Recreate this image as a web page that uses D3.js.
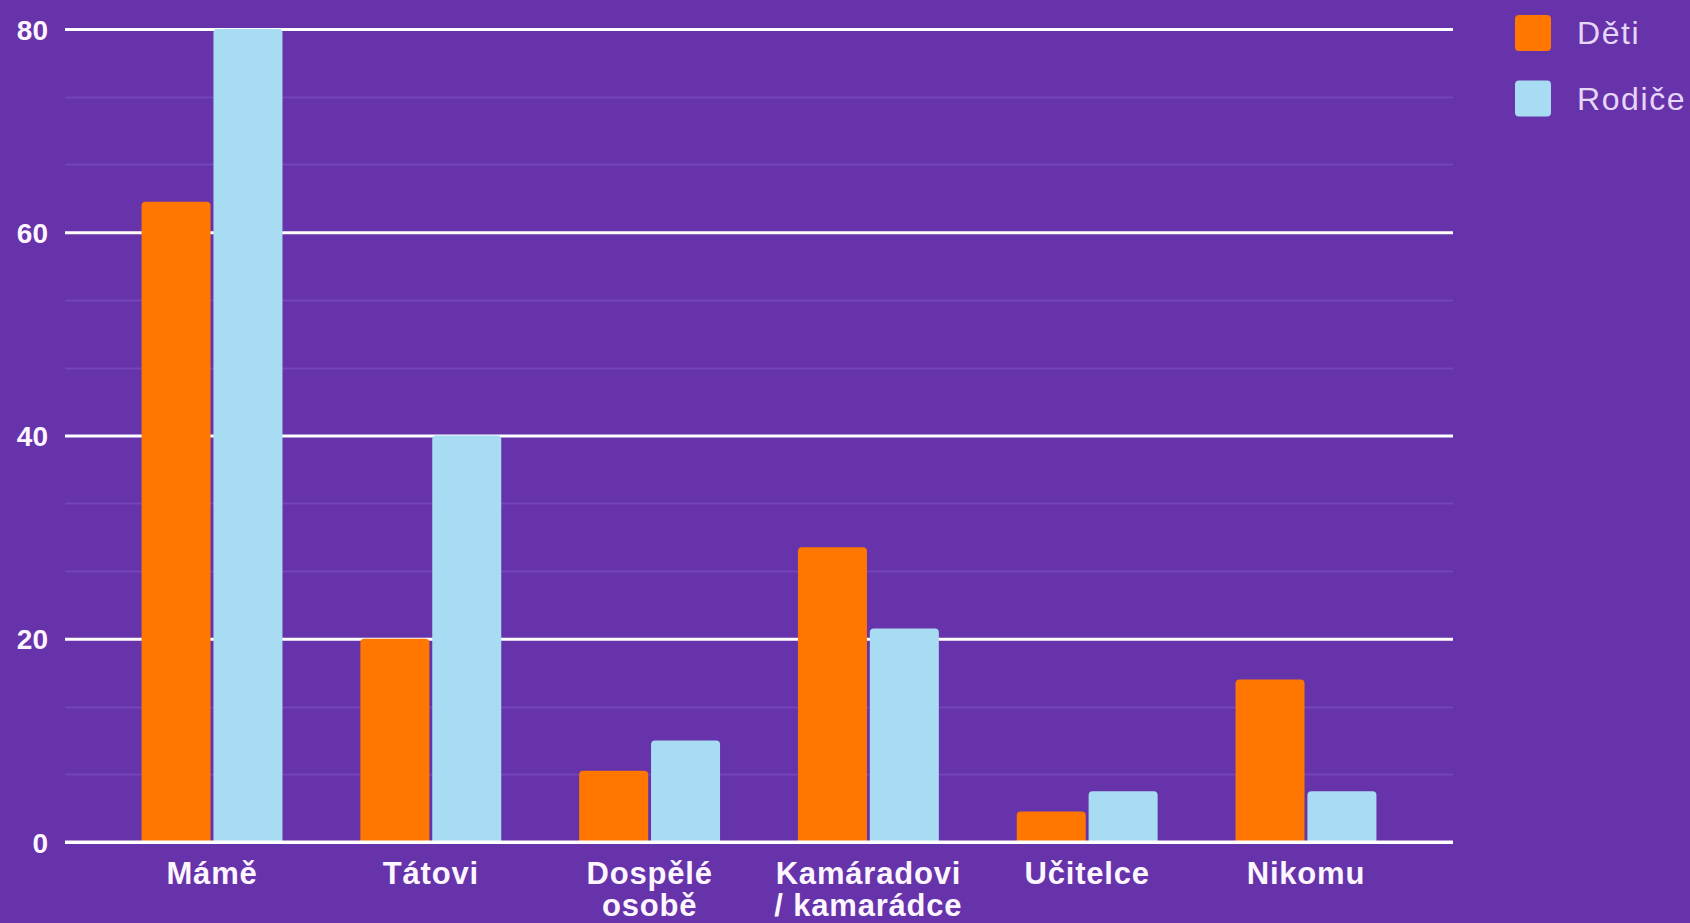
<!DOCTYPE html>
<html>
<head>
<meta charset="utf-8">
<script src="https://cdn.jsdelivr.net/npm/d3@7"></script>
<style>
  html, body { margin: 0; padding: 0; background: #6633aa; }
  svg { display: block; }
</style>
</head>
<body>
<svg id="chart" width="1690" height="923"></svg>
<script>
// ---- data ----
const categories = ["Mámě", "Tátovi", "Dospělé\nosobě", "Kamáradovi\n/ kamarádce", "Učitelce", "Nikomu"];
const seriesNames = ["Děti", "Rodiče"];
const detiValues = [63, 20, 7, 29, 3, 16];
const rodiceValues = [80, 40, 10, 21, 5, 5];
const yTicks = [0, 20, 40, 60, 80];
const seriesColors = ["#ff7700", "#a8dcf2"];

const seriesValues = [detiValues, rodiceValues];

// ---- layout ----
const W = 1690, H = 923;
const margin = { left: 65, right: 237, top: 29, bottom: 81 };
const svg = d3.select("#chart");
svg.append("rect").attr("width", W).attr("height", H).attr("fill", "#6633aa");

const x0 = d3.scaleBand().domain(d3.range(categories.length))
  .range([margin.left, W - margin.right]).paddingInner(0.356).paddingOuter(0.35);
const x1 = d3.scaleBand().domain(d3.range(seriesNames.length))
  .range([0, x0.bandwidth()]).paddingInner(0.04);
const y = d3.scaleLinear().domain([0, 80]).range([H - margin.bottom, margin.top]);

// minor gridlines
const minor = d3.range(0, 80, 20 / 3).filter(v => yTicks.indexOf(Math.round(v * 1000) / 1000) < 0);
svg.append("g").selectAll("line").data(minor).join("line")
  .attr("x1", margin.left).attr("x2", W - margin.right)
  .attr("y1", d => Math.round(y(d)) + 0.5).attr("y2", d => Math.round(y(d)) + 0.5)
  .attr("stroke", "#7444b8").attr("stroke-width", 2);

// major gridlines via axis
const yAxis = d3.axisLeft(y).tickValues(yTicks).tickSize(-(W - margin.left - margin.right)).tickPadding(17);
const gy = svg.append("g").attr("transform", `translate(${margin.left},0)`).call(yAxis);
gy.select(".domain").remove();
gy.selectAll(".tick line").attr("stroke", "#ffffff").attr("stroke-width", 3);
gy.selectAll(".tick text")
  .attr("fill", "#fdf6ff")
  .attr("font-family", "'Liberation Sans', Arial, sans-serif")
  .attr("font-weight", "bold")
  .attr("font-size", 28)
  .attr("dy", "0.36em");

// bars with rounded top corners
function barPath(x, yTop, w, yBase, r) {
  const h = yBase - yTop;
  r = Math.min(r, h / 2, w / 2);
  return `M${x},${yBase}V${yTop + r}Q${x},${yTop} ${x + r},${yTop}H${x + w - r}Q${x + w},${yTop} ${x + w},${yTop + r}V${yBase}Z`;
}
const groups = svg.append("g").selectAll("g").data(categories.map((c, i) => i)).join("g")
  .attr("transform", i => `translate(${x0(i)},0)`);
groups.selectAll("path").data(i => seriesValues.map((vals, s) => ({ s, v: vals[i] }))).join("path")
  .attr("d", d => barPath(x1(d.s), y(d.v), x1.bandwidth(), y(0) - 1, 4))
  .attr("fill", d => seriesColors[d.s]);

// zero line on top
svg.append("line").attr("x1", margin.left).attr("x2", W - margin.right)
  .attr("y1", y(0)).attr("y2", y(0)).attr("stroke", "#ffffff").attr("stroke-width", 3);

// category labels
const xl = svg.append("g");
categories.forEach((c, i) => {
  const t = xl.append("text")
    .attr("x", x0(i) + x0.bandwidth() / 2)
    .attr("y", 884)
    .attr("text-anchor", "middle")
    .attr("fill", "#fdf6ff")
    .attr("font-family", "'Liberation Sans', Arial, sans-serif")
    .attr("font-weight", "bold")
    .attr("font-size", 31)
    .attr("letter-spacing", 0.8);
  c.split("\n").forEach((line, k) => {
    t.append("tspan").attr("x", x0(i) + x0.bandwidth() / 2).attr("dy", k === 0 ? 0 : 32).text(line);
  });
});

// legend
const leg = svg.append("g").attr("transform", "translate(1515,15)");
seriesNames.forEach((n, i) => {
  const g = leg.append("g").attr("transform", `translate(0,${i * 65.5})`);
  g.append("rect").attr("width", 36).attr("height", 36).attr("rx", 4).attr("fill", seriesColors[i]);
  g.append("text").attr("x", 62).attr("y", 29)
    .attr("fill", "#e6d6f7")
    .attr("font-family", "'Liberation Sans', Arial, sans-serif")
    .attr("font-size", 32)
    .attr("letter-spacing", 1.6)
    .text(n);
});
</script>
</body>
</html>
